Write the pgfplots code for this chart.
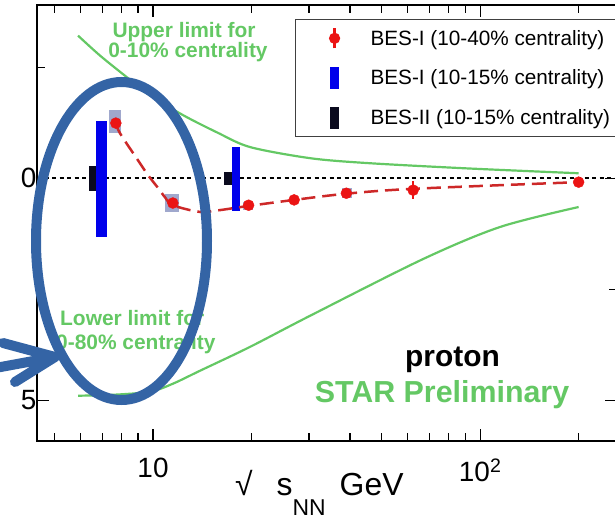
\documentclass[border=0pt]{standalone}
\usepackage{pgfplots}
\pgfplotsset{compat=1.18}
\usepackage{fontspec}
\setmainfont{Liberation Sans}

\definecolor{limgreen}{RGB}{100,200,100}
\definecolor{besred}{RGB}{235,20,20}
\definecolor{fitred}{RGB}{205,40,40}
\definecolor{besblue}{RGB}{0,0,235}
\definecolor{besblack}{RGB}{10,10,30}
\definecolor{sysbox}{RGB}{160,168,205}
\definecolor{markup}{RGB}{52,100,165}

\begin{document}
\begin{tikzpicture}
\useasboundingbox (0bp,0bp) rectangle (615bp,519bp);
\begin{axis}[
  at={(37bp,78bp)}, anchor=south west,
  scale only axis, width=580bp, height=436bp,
  xmode=log, xmin=4.42, xmax=262, ymin=-5.92, ymax=3.9,
  xtick={10,100}, xticklabels={10,10\textsuperscript{2}},
  minor xtick={5,6,7,8,9,20,30,40,50,60,70,80,90,200},
  ytick={-5,0}, yticklabels={5,0},
  minor ytick={-2.5,2.5},
  tick style={black, line width=1.2bp},
  major tick length=12bp, minor tick length=8bp,
  axis line style={line width=1.5bp},
  tick label style={font=\fontsize{28}{28}\selectfont},
  xticklabel style={yshift=-14bp},
  yticklabel style={xshift=3bp},
  legend style={at={(0.4448,0.968)}, anchor=north west,
    draw=black!75, line width=1.2bp, fill=white,
    font=\fontsize{20.8}{20.8}\selectfont,
    row sep=17.5bp, inner xsep=3bp, inner ysep=7.5bp},
  legend cell align=left,
]
% legend keys
\addlegendimage{legend image code/.code={
  \path[draw=none] (-36bp,0bp) -- (34bp,0bp);
  \draw[besred, line width=2.5bp] (0bp,-10bp) -- (0bp,10bp);
  \fill[besred] (0bp,0bp) circle (5bp);}}
\addlegendentry{BES-I (10-40\% centrality)}
\addlegendimage{legend image code/.code={
  \path[draw=none] (-36bp,0bp) -- (34bp,0bp);
  \fill[besblue] (-4bp,-10.5bp) rectangle (4bp,10.5bp);}}
\addlegendentry{BES-I (10-15\% centrality)}
\addlegendimage{legend image code/.code={
  \path[draw=none] (-36bp,0bp) -- (34bp,0bp);
  \fill[besblack] (-4bp,-10.5bp) rectangle (4bp,10.5bp);}}
\addlegendentry{BES-II (10-15\% centrality)}

% zero line
\addplot[black, line width=1.5bp, dash pattern=on 4bp off 3.5bp, forget plot]
  coordinates {(4.42,0) (262,0)};

% upper limit, 0-10% centrality
\addplot[limgreen, line width=2.2bp, smooth, forget plot] coordinates {
  (5.90,3.21) (6.89,2.76) (8.33,2.27) (9.79,1.87) (12.35,1.42) (15.7,1.03)
  (19.8,0.70) (30.2,0.45) (45.1,0.34) (91,0.22) (200,0.11)};
% lower limit, 0-80% centrality
\addplot[limgreen, line width=2.2bp, smooth, forget plot] coordinates {
  (5.90,-4.90) (7.5,-4.88) (9.79,-4.81) (11.5,-4.63) (13.9,-4.34)
  (19.8,-3.80) (30.2,-3.10) (67,-1.82) (115,-1.10) (200,-0.65)};

% systematic boxes
\addplot[fill=sysbox, draw=none, forget plot] coordinates {
  (7.34,1.53) (7.98,1.53) (7.98,1.01) (7.34,1.01)} -- cycle;
\addplot[fill=sysbox, draw=none, forget plot] coordinates {
  (10.88,-0.36) (12.01,-0.36) (12.01,-0.76) (10.88,-0.76)} -- cycle;
\addplot[fill=sysbox, draw=none, forget plot] coordinates {
  (18.84,-0.54) (20.2,-0.54) (20.2,-0.72) (18.84,-0.72)} -- cycle;
\addplot[fill=sysbox, draw=none, forget plot] coordinates {
  (37.8,-0.22) (40.6,-0.22) (40.6,-0.45) (37.8,-0.45)} -- cycle;

% BES-II (10-15%)
\addplot[besblack, line width=12bp, forget plot] coordinates {(6.65,0.27) (6.65,-0.29)};
\addplot[besblack, line width=9bp, forget plot] coordinates {(16.96,0.135) (16.96,-0.157)};
% BES-I (10-15%)
\addplot[besblue, line width=11bp, forget plot] coordinates {(6.96,1.28) (6.96,-1.33)};
\addplot[besblue, line width=8.5bp, forget plot] coordinates {(17.94,0.70) (17.94,-0.74)};

% fit through BES-I (10-40%)
\addplot[fitred, line width=2.5bp, dash pattern=on 14bp off 7bp, smooth, forget plot] coordinates {
  (7.7,1.24) (7.93,1.01) (9.0,0.40) (9.65,0.07) (10.36,-0.22) (10.88,-0.43)
  (11.5,-0.61) (13.9,-0.76) (16.0,-0.72) (19.4,-0.63) (27,-0.49) (39,-0.35)
  (62.4,-0.24) (200,-0.09)};

% BES-I (10-40%)
\addplot[only marks, mark=*, mark size=5.5bp, color=besred, forget plot,
  error bars/.cd, y dir=both, y explicit, error mark=none,
  error bar style={line width=2.5bp, besred}] coordinates {
  (7.7,1.24) +- (0,0.05)
  (11.5,-0.56) +- (0,0.04)
  (19.6,-0.61) +- (0,0.04)
  (27,-0.49) +- (0,0.04)
  (39,-0.34) +- (0,0.05)
  (62.4,-0.27) +- (0,0.2)
  (200,-0.09) +- (0,0.04)};
\end{axis}

% annotations
\node[anchor=base, text=limgreen, font=\fontsize{21}{21}\selectfont\bfseries] at (184bp,481bp) {Upper limit for};
\node[anchor=base, text=limgreen, font=\fontsize{21}{21}\selectfont\bfseries] at (188bp,461bp) {0-10\% centrality};
\node[anchor=base west, inner sep=0pt, text=limgreen, font=\fontsize{21}{21}\selectfont\bfseries] at (60bp,193bp) {Lower limit for};
\node[anchor=base west, inner sep=0pt, text=limgreen, font=\fontsize{21}{21}\selectfont\bfseries] at (56bp,169bp) {0-80\% centrality};
\node[anchor=base, font=\fontsize{30}{30}\selectfont\bfseries] at (452.5bp,152bp) {proton};
\node[anchor=base, text=limgreen, font=\fontsize{30.5}{30.5}\selectfont\bfseries] at (442bp,116bp) {STAR Preliminary};

% x axis title
\node[anchor=base west, inner sep=0pt, font=\fontsize{32}{32}\selectfont] at (235bp,24bp)
  {√\hspace{24bp}s\raisebox{-20bp}{\fontsize{23}{23}\selectfont NN}\hspace{14bp}GeV};

% highlight
\draw[markup, line width=10bp] (121.5bp,278bp) ellipse (85.5bp and 159bp);
\draw[markup, line width=10bp, line cap=round, line join=round]
  (-10bp,150bp) -- (55bp,162bp) (3bp,176bp) -- (55bp,162bp) -- (15bp,137bp);
\end{tikzpicture}
\end{document}
